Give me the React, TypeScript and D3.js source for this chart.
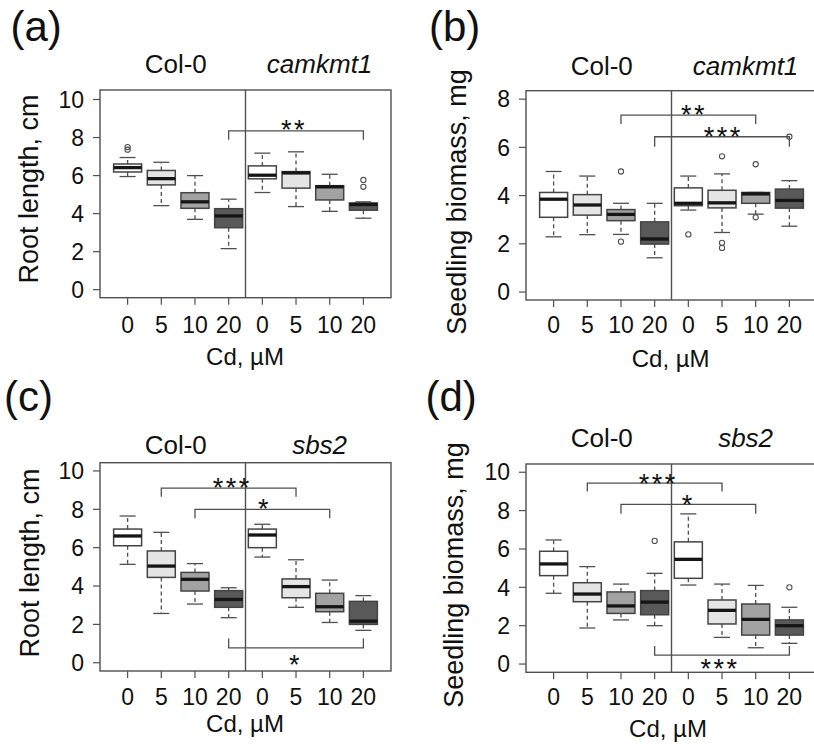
import React from 'react';
import * as d3 from 'd3';

// ---------- data ----------
const doseLabels = ['0', '5', '10', '20', '0', '5', '10', '20'];
const yTicksRoot = [0, 2, 4, 6, 8, 10];
const yTicksBiomassB = [0, 2, 4, 6, 8];
const yTicksBiomassD = [0, 2, 4, 6, 8, 10];

// each entry: [lower whisker, Q1, median, Q3, upper whisker]
const rootCamkmt1: number[][] = [
  [5.95, 6.19, 6.42, 6.61, 6.95],
  [4.42, 5.51, 5.84, 6.27, 6.7],
  [3.7, 4.28, 4.62, 5.1, 6.0],
  [2.16, 3.26, 3.88, 4.26, 4.76],
  [5.11, 5.83, 6.02, 6.51, 7.18],
  [4.37, 5.34, 6.14, 6.21, 7.25],
  [4.12, 4.72, 5.41, 5.47, 6.07],
  [3.76, 4.18, 4.48, 4.56, 4.62],
];
const rootCamkmt1Out: number[][] = [[7.36, 7.5], [], [], [], [], [], [], [5.41, 5.77]];

const biomassCamkmt1: number[][] = [
  [2.29, 3.1, 3.85, 4.13, 5.0],
  [2.38, 3.19, 3.61, 4.04, 4.81],
  [2.39, 2.96, 3.22, 3.42, 3.68],
  [1.42, 1.99, 2.2, 2.91, 3.68],
  [3.4, 3.58, 3.68, 4.32, 4.81],
  [2.47, 3.49, 3.7, 4.22, 4.9],
  [3.23, 3.68, 4.07, 4.13, 4.13],
  [2.73, 3.48, 3.8, 4.27, 4.62],
];
const biomassCamkmt1Out: number[][] = [[], [], [2.09, 5.0], [], [2.39], [1.83, 2.04, 5.63], [3.1, 5.3], [6.44]];

const rootSbs2: number[][] = [
  [5.13, 6.1, 6.61, 6.97, 7.65],
  [2.57, 4.45, 5.04, 5.83, 6.8],
  [3.06, 3.74, 4.35, 4.71, 5.17],
  [2.35, 2.89, 3.3, 3.76, 3.91],
  [5.51, 6.0, 6.66, 6.97, 7.22],
  [2.89, 3.39, 3.97, 4.37, 5.37],
  [2.1, 2.66, 2.92, 3.62, 4.31],
  [1.69, 2.0, 2.17, 3.2, 3.5],
];
const rootSbs2Out: number[][] = [[], [], [], [], [], [], [], []];

const biomassSbs2: number[][] = [
  [3.69, 4.61, 5.22, 5.88, 6.47],
  [1.88, 3.25, 3.65, 4.24, 5.08],
  [2.3, 2.64, 3.03, 3.76, 4.17],
  [2.0, 2.57, 3.23, 3.83, 4.73],
  [4.12, 4.47, 5.46, 6.37, 7.83],
  [1.39, 2.09, 2.8, 3.34, 4.17],
  [0.85, 1.51, 2.33, 3.13, 4.1],
  [1.08, 1.51, 2.0, 2.3, 2.96],
];
const biomassSbs2Out: number[][] = [[], [], [], [6.42], [], [], [], [4.0]];

// significance brackets: from/to category (1-based), bar level, leg end, label, label centre
type Bracket = { from: number; to: number; bar: number; leg: number; label: string; lx: number; ly: number };
const bracketsA: Bracket[] = [{ from: 4, to: 8, bar: 8.35, leg: 7.88, label: '**', lx: 5.9, ly: 8.76 }];
const bracketsB: Bracket[] = [
  { from: 3, to: 7, bar: 7.34, leg: 6.97, label: '**', lx: 5.13, ly: 7.65 },
  { from: 4, to: 8, bar: 6.44, leg: 6.03, label: '***', lx: 6.0, ly: 6.72 },
];
const bracketsC: Bracket[] = [
  { from: 2, to: 6, bar: 9.1, leg: 8.66, label: '***', lx: 4.07, ly: 9.49 },
  { from: 3, to: 7, bar: 8.0, leg: 7.53, label: '*', lx: 5.03, ly: 8.4 },
  { from: 4, to: 8, bar: 0.78, leg: 1.27, label: '*', lx: 5.95, ly: 0.25 },
];
const bracketsD: Bracket[] = [
  { from: 2, to: 6, bar: 9.43, leg: 8.99, label: '***', lx: 4.07, ly: 9.77 },
  { from: 3, to: 7, bar: 8.33, leg: 7.83, label: '*', lx: 4.96, ly: 8.64 },
  { from: 4, to: 8, bar: 0.47, leg: 0.94, label: '***', lx: 5.9, ly: 0.1 },
];

const fills = ['#ffffff', '#e5e5e5', '#a2a2a2', '#595959'];
const FONT = '"Liberation Sans", Arial, Helvetica, sans-serif';

type PanelCfg = {
  letter: string; letterX: number; letterY: number;
  left: number; right: number; top: number; bottom: number;
  yDomain: [number, number]; yTicks: number[];
  stats: number[][]; outliers: number[][]; brackets: Bracket[];
  mutant: string; groupY: number;
  yLabel: string; yLabelX: number; yLabelY: number;
  xTickY: number; xLabelY: number; xLabelX: number;
};

function Panel({ c }: { c: PanelCfg }) {
  const x = d3.scaleLinear().domain([0.18, 8.82]).range([c.left, c.right]);
  const y = d3.scaleLinear().domain(c.yDomain).range([c.bottom, c.top]);
  const hw = 14;
  const sw = 8;
  const grey = '#505050';
  const starFs = 27;
  return (
    <g fontFamily={FONT}>
      <text x={c.letterX} y={c.letterY} fontSize={42} fill="#111">{c.letter}</text>
      <text x={x(2.43)} y={c.groupY} fontSize={26} textAnchor="middle" fill="#111">Col-0</text>
      <text x={x(6.7)} y={c.groupY} fontSize={26} textAnchor="middle" fontStyle="italic" fill="#111">{c.mutant}</text>
      {/* y axis */}
      {c.yTicks.map((t) => (
        <g key={'yt' + t}>
          <line x1={c.left - 7} x2={c.left} y1={y(t)} y2={y(t)} stroke={grey} strokeWidth={1.2} />
          <text x={c.left - 16} y={y(t) + 8.2} fontSize={23} textAnchor="end" fill="#111">{t}</text>
        </g>
      ))}
      {/* x axis */}
      {doseLabels.map((d, i) => (
        <g key={'xt' + i}>
          <line x1={x(i + 1)} x2={x(i + 1)} y1={c.bottom} y2={c.bottom + 7} stroke={grey} strokeWidth={1.2} />
          <text x={x(i + 1)} y={c.xTickY} fontSize={23} textAnchor="middle" fill="#111">{d}</text>
        </g>
      ))}
      <text x={c.xLabelX} y={c.xLabelY} fontSize={24} textAnchor="middle" fill="#111">Cd, µM</text>
      <text transform={`translate(${c.yLabelX},${c.yLabelY}) rotate(-90)`} fontSize={27} textAnchor="middle" fill="#111">{c.yLabel}</text>
      {/* boxes */}
      {c.stats.map((s, i) => {
        const cx = x(i + 1);
        const [lo, q1, med, q3, hi] = s;
        return (
          <g key={'b' + i}>
            <line x1={cx} x2={cx} y1={y(q3)} y2={y(hi)} stroke={grey} strokeWidth={1.3} strokeDasharray="4,3" />
            <line x1={cx} x2={cx} y1={y(q1)} y2={y(lo)} stroke={grey} strokeWidth={1.3} strokeDasharray="4,3" />
            <line x1={cx - sw} x2={cx + sw} y1={y(hi)} y2={y(hi)} stroke={grey} strokeWidth={1.3} />
            <line x1={cx - sw} x2={cx + sw} y1={y(lo)} y2={y(lo)} stroke={grey} strokeWidth={1.3} />
            <rect x={cx - hw} y={y(q3)} width={2 * hw} height={y(q1) - y(q3)} fill={fills[i % 4]} stroke="#444" strokeWidth={1.5} />
            <line x1={cx - hw} x2={cx + hw} y1={y(med)} y2={y(med)} stroke="#151515" strokeWidth={3.3} />
            {c.outliers[i].map((o, j) => (
              <circle key={j} cx={cx} cy={y(o)} r={2.6} fill="none" stroke={grey} strokeWidth={1.1} />
            ))}
          </g>
        );
      })}
      {/* frame and divider */}
      <rect x={c.left} y={c.top} width={c.right - c.left} height={c.bottom - c.top} fill="none" stroke={grey} strokeWidth={1.4} />
      <line x1={x(4.5)} x2={x(4.5)} y1={c.top} y2={c.bottom} stroke={grey} strokeWidth={1.4} />
      {/* brackets */}
      {c.brackets.map((b, i) => (
        <g key={'br' + i}>
          <path
            d={`M${x(b.from)},${y(b.leg)}V${y(b.bar)}H${x(b.to)}V${y(b.leg)}`}
            fill="none" stroke={grey} strokeWidth={1.3}
          />
          <text x={x(b.lx) + 1.25} y={y(b.ly) + 0.59 * starFs} fontSize={starFs} letterSpacing={2.5} textAnchor="middle" fill="#111">{b.label}</text>
        </g>
      ))}
    </g>
  );
}

const panels: PanelCfg[] = [
  {
    letter: '(a)', letterX: 10.5, letterY: 41,
    left: 100, right: 391, top: 90, bottom: 297.7,
    yDomain: [-0.42, 10.5], yTicks: yTicksRoot,
    stats: rootCamkmt1, outliers: rootCamkmt1Out, brackets: bracketsA,
    mutant: 'camkmt1', groupY: 73,
    yLabel: 'Root length, cm', yLabelX: 38, yLabelY: 189,
    xTickY: 333.3, xLabelY: 365, xLabelX: 245,
  },
  {
    letter: '(b)', letterX: 429, letterY: 41,
    left: 526, right: 817, top: 90.7, bottom: 300,
    yDomain: [-0.33, 8.35], yTicks: yTicksBiomassB,
    stats: biomassCamkmt1, outliers: biomassCamkmt1Out, brackets: bracketsB,
    mutant: 'camkmt1', groupY: 75,
    yLabel: 'Seedling biomass, mg', yLabelX: 466, yLabelY: 202,
    xTickY: 333.3, xLabelY: 367, xLabelX: 670.7,
  },
  {
    letter: '(c)', letterX: 4, letterY: 411,
    left: 100, right: 391, top: 462.7, bottom: 671,
    yDomain: [-0.43, 10.43], yTicks: yTicksRoot,
    stats: rootSbs2, outliers: rootSbs2Out, brackets: bracketsC,
    mutant: 'sbs2', groupY: 454,
    yLabel: 'Root length, cm', yLabelX: 39, yLabelY: 563,
    xTickY: 705, xLabelY: 732, xLabelX: 245,
  },
  {
    letter: '(d)', letterX: 425.5, letterY: 411,
    left: 526, right: 817, top: 464, bottom: 672.3,
    yDomain: [-0.43, 10.43], yTicks: yTicksBiomassD,
    stats: biomassSbs2, outliers: biomassSbs2Out, brackets: bracketsD,
    mutant: 'sbs2', groupY: 447,
    yLabel: 'Seedling biomass, mg', yLabelX: 463, yLabelY: 575,
    xTickY: 705, xLabelY: 737, xLabelX: 668,
  },
];

export default function App() {
  return (
    <svg
      width={814}
      height={747}
      viewBox="0 0 814 747"
      style={{ position: 'absolute', left: 0, top: 0, background: '#fff' }}
    >
      <rect x={0} y={0} width={814} height={747} fill="#fff" />
      {panels.map((p, i) => (
        <Panel key={i} c={p} />
      ))}
    </svg>
  );
}
